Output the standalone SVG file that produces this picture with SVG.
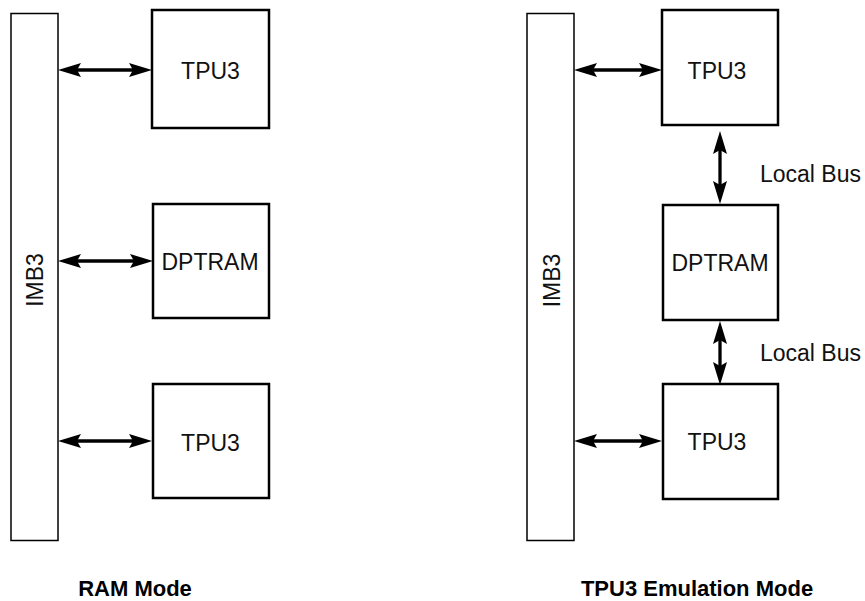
<svg xmlns="http://www.w3.org/2000/svg" width="865" height="601" viewBox="0 0 865 601">
<style>
.bus{fill:#fff;stroke:#000;stroke-width:1.5}
.box{fill:#fff;stroke:#000;stroke-width:2.5}
.lbl{font-family:"Liberation Sans",Arial,sans-serif;font-size:23px;fill:#111}
.mid{text-anchor:middle}
.ttl{font-family:"Liberation Sans",Arial,sans-serif;font-size:22px;font-weight:bold;fill:#000;text-anchor:middle}
.conn{stroke:#000;stroke-width:3.3;fill:none;marker-start:url(#ah);marker-end:url(#ah)}
</style>
<defs>
<marker id="ah" markerUnits="userSpaceOnUse" markerWidth="24" markerHeight="16" viewBox="0 -8 24 16" refX="4" refY="0" orient="auto-start-reverse">
<path d="M0,-7 L23,0 L0,7 L4,0 Z" fill="#000"/>
</marker>
</defs>
<g id="imb3-left"><rect class="bus" x="11" y="13.5" width="47" height="527"/><text class="lbl mid" transform="translate(43,280) rotate(-90)">IMB3</text></g>
<g id="tpu3-top-left"><rect class="box" x="152" y="10" width="117" height="118"/><text class="lbl mid" x="210.5" y="79">TPU3</text></g>
<g id="dptram-left"><rect class="box" x="153" y="204" width="116" height="114"/><text class="lbl mid" x="210" y="270">DPTRAM</text></g>
<g id="tpu3-bottom-left"><rect class="box" x="153" y="384" width="116" height="114"/><text class="lbl mid" x="210.5" y="451">TPU3</text></g>
<g id="imb3-right"><rect class="bus" x="527" y="13.5" width="47" height="527"/><text class="lbl mid" transform="translate(559.5,280.5) rotate(-90)">IMB3</text></g>
<g id="tpu3-top-right"><rect class="box" x="662" y="10" width="116" height="115"/><text class="lbl mid" x="717" y="79">TPU3</text></g>
<g id="dptram-right"><rect class="box" x="663" y="205" width="115" height="115"/><text class="lbl mid" x="720" y="271">DPTRAM</text></g>
<g id="tpu3-bottom-right"><rect class="box" x="663" y="384" width="115" height="115"/><text class="lbl mid" x="717" y="450">TPU3</text></g>
<g id="connectors">
<line class="conn" x1="77" y1="70" x2="133" y2="70"/>
<line class="conn" x1="77" y1="261" x2="134" y2="261"/>
<line class="conn" x1="77" y1="441" x2="133" y2="441"/>
<line class="conn" x1="593" y1="70" x2="643" y2="70"/>
<line class="conn" x1="593" y1="441" x2="643" y2="441"/>
<line class="conn" x1="720" y1="150" x2="720" y2="185"/>
<line class="conn" x1="720" y1="340" x2="720" y2="366"/>
</g>
<g id="labels">
<text class="lbl" x="760" y="182">Local Bus</text>
<text class="lbl" x="760" y="361">Local Bus</text>
<text class="ttl" x="135" y="596">RAM Mode</text>
<text class="ttl" x="697" y="596">TPU3 Emulation Mode</text>
</g>
</svg>
